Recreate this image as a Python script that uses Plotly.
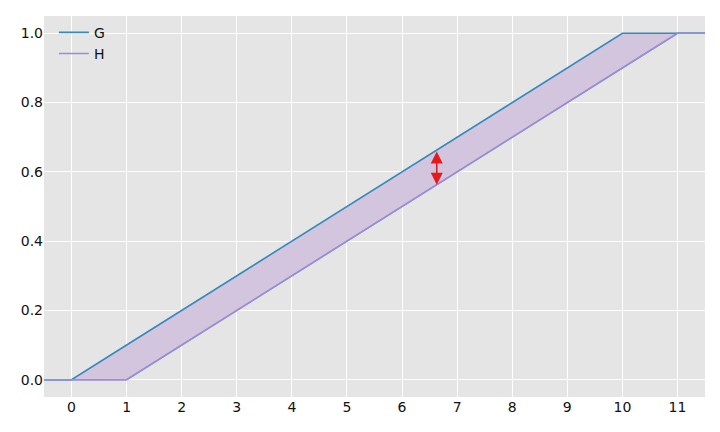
import plotly.graph_objects as go

x = [-0.5, 0, 1, 10, 11, 11.5]
g_vals = [0, 0, 0.1, 1, 1, 1]
h_vals = [0, 0, 0, 0.9, 1, 1]
x_ticks = list(range(0, 12))
y_ticks = [0.0, 0.2, 0.4, 0.6, 0.8, 1.0]
arrow_x = 6.63
arrow_top = 0.663
arrow_bottom = 0.563

fig = go.Figure()
fig.add_trace(go.Scatter(x=x, y=h_vals, mode="lines", line=dict(color="#988ED5", width=1.5),
                         name="H", showlegend=False, hoverinfo="skip"))
fig.add_trace(go.Scatter(x=x, y=g_vals, mode="lines", line=dict(color="rgba(0,0,0,0)", width=0),
                         fill="tonexty", fillcolor="rgb(212,197,222)", showlegend=False, hoverinfo="skip"))
fig.add_trace(go.Scatter(x=x, y=g_vals, mode="lines", line=dict(color="#348ABD", width=1.6), name="G"))
fig.add_trace(go.Scatter(x=x, y=h_vals, mode="lines", line=dict(color="#988ED5", width=1.6), name="H"))

fig.add_annotation(x=arrow_x, y=arrow_bottom, ax=arrow_x, ay=arrow_top, xref="x", yref="y",
                   axref="x", ayref="y", text="", showarrow=True, arrowhead=2, startarrowhead=2,
                   arrowside="end+start", arrowsize=1.5, arrowwidth=1.6, arrowcolor="#E41A1C",
                   startarrowsize=1.5)

fig.update_layout(
    width=720, height=432,
    margin=dict(l=36, r=23, t=8, b=43),
    paper_bgcolor="white", plot_bgcolor="#E5E5E5",
    font=dict(family="DejaVu Sans", size=14, color="#111111"),
    legend=dict(x=0.015, y=0.998, xanchor="left", yanchor="top", bgcolor="rgba(0,0,0,0)",
                traceorder="normal", font=dict(size=14, color="#111111")),
)
fig.update_xaxes(range=[-0.5, 11.5], tickvals=x_ticks, showgrid=True, gridcolor="white", gridwidth=1,
                 zeroline=False, showline=False, ticks="")
fig.update_yaxes(range=[-0.05, 1.05], tickvals=y_ticks, tickformat=".1f", showgrid=True, gridcolor="white",
                 gridwidth=1, zeroline=False, showline=False, ticks="")
fig.write_html("out.html")
